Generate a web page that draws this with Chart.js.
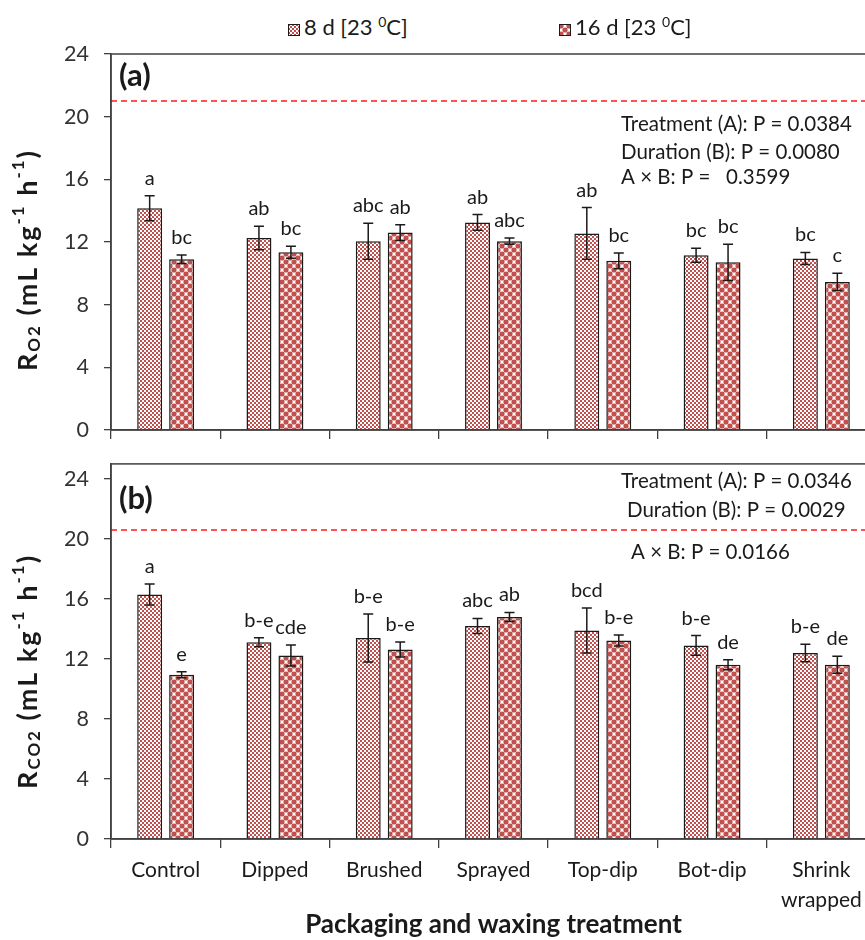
<!DOCTYPE html>
<html>
<head>
<meta charset="utf-8">
<script src="https://cdn.jsdelivr.net/npm/chart.js@4.4.1/dist/chart.umd.min.js"></script>
<style>
  html, body { margin: 0; padding: 0; background: #fff; }
  #wrap { position: relative; width: 865px; height: 940px; overflow: hidden; font-family: Lato, sans-serif; }
  #top { position: absolute; left: 0; top: 0; }
  #bot { position: absolute; left: 0; top: 436px; }
  .leg { position: absolute; top: 8px; font-size: 22px; line-height: 28px; color: #1a1a1a; white-space: nowrap; }
  .leg canvas { vertical-align: -1px; margin-right: 4px; }
  .leg sup { font-size: 14px; vertical-align: 8px; }
</style>
</head>
<body>
<div id="wrap">
  <div class="leg" style="left:288px"><canvas id="sw8" width="12" height="12"></canvas><span>8 d [23 <sup>0</sup>C]</span></div>
  <div class="leg" style="left:559px"><canvas id="sw16" width="12" height="12"></canvas><span>16 d [23 <sup>0</sup>C]</span></div>
  <canvas id="top" width="880" height="458"></canvas>
  <canvas id="bot" width="880" height="504"></canvas>
</div>
<script>
// categories
const categories = ['Control', 'Dipped', 'Brushed', 'Sprayed', 'Top-dip', 'Bot-dip', ['Shrink', 'wrapped']];
const seriesNames = ['8 d [23 \u2070C]', '16 d [23 \u2070C]'];

// (a) O2 respiration rate
const o2Day8 = [14.15, 12.25, 12.05, 13.25, 12.55, 11.15, 10.95];
const o2Day8Err = [0.8, 0.75, 1.15, 0.5, 1.65, 0.45, 0.38];
const o2Day16 = [10.9, 11.35, 12.6, 12.05, 10.8, 10.7, 9.45];
const o2Day16Err = [0.27, 0.38, 0.5, 0.2, 0.5, 1.15, 0.55];
const o2Day8Letters = ['a', 'ab', 'abc', 'ab', 'ab', 'bc', 'bc'];
const o2Day16Letters = ['bc', 'bc', 'ab', 'abc', 'bc', 'bc', 'c'];
const o2RefLine = 21;
const o2Stats = ['Treatment (A): P = 0.0384', 'Duration (B): P = 0.0080', 'A \u00d7 B: P =   0.3599'];

// (b) CO2 respiration rate
const co2Day8 = [16.3, 13.12, 13.4, 14.2, 13.9, 12.9, 12.4];
const co2Day8Err = [0.7, 0.3, 1.6, 0.5, 1.5, 0.66, 0.58];
const co2Day16 = [10.95, 12.23, 12.63, 14.8, 13.23, 11.61, 11.61];
const co2Day16Err = [0.2, 0.7, 0.5, 0.3, 0.37, 0.33, 0.57];
const co2Day8Letters = ['a', 'b-e', 'b-e', 'abc', 'bcd', 'b-e', 'b-e'];
const co2Day16Letters = ['e', 'cde', 'b-e', 'ab', 'b-e', 'de', 'de'];
const co2RefLine = 20.6;
const co2Stats = ['Treatment (A): P = 0.0346', 'Duration (B): P = 0.0029', 'A \u00d7 B: P = 0.0166'];

// y ticks
const yTicks = [0, 4, 8, 12, 16, 20, 24];

Chart.defaults.font.family = 'Lato, sans-serif';
Chart.defaults.color = '#333';

const RED = '#c0504d';
const INK = '#1a1a1a';
const AXIS = '#404040';

function checkerPattern(ctx) {
  const c = document.createElement('canvas');
  c.width = 4; c.height = 4;
  const g = c.getContext('2d');
  g.fillStyle = '#fff'; g.fillRect(0, 0, 4, 4);
  g.fillStyle = RED;
  g.fillRect(0, 0, 2, 2); g.fillRect(2, 2, 2, 2);
  return ctx.createPattern(c, 'repeat');
}

function dotPattern(ctx) {
  const c = document.createElement('canvas');
  c.width = 8; c.height = 8;
  const g = c.getContext('2d');
  g.fillStyle = '#fff'; g.fillRect(0, 0, 8, 8);
  g.fillStyle = RED;
  [[2, 2], [6, 6], [-2, 6], [6, -2], [2, 10], [10, 2]].forEach(([x, y]) => {
    g.beginPath(); g.arc(x, y, 2.6, 0, Math.PI * 2); g.fill();
  });
  return ctx.createPattern(c, 'repeat');
}

// legend swatches
[['sw8', checkerPattern], ['sw16', dotPattern]].forEach(([id, fn]) => {
  const cv = document.getElementById(id);
  const g = cv.getContext('2d');
  g.fillStyle = fn(g); g.fillRect(0, 0, 12, 12);
  g.strokeStyle = INK; g.lineWidth = 1; g.strokeRect(0.5, 0.5, 11, 11);
});

const errorBars = {
  id: 'errorBars',
  afterDatasetsDraw(chart, args, opts) {
    const ctx = chart.ctx;
    const y = chart.scales.y;
    ctx.save();
    chart.data.datasets.forEach((ds, di) => {
      const meta = chart.getDatasetMeta(di);
      meta.data.forEach((bar, i) => {
        const v = ds.data[i], e = ds.errors[i];
        const yt = y.getPixelForValue(v + e), yb = y.getPixelForValue(v - e);
        ctx.strokeStyle = INK; ctx.lineWidth = 1.5;
        ctx.beginPath();
        ctx.moveTo(bar.x, yt); ctx.lineTo(bar.x, yb);
        ctx.moveTo(bar.x - 5, yt); ctx.lineTo(bar.x + 5, yt);
        ctx.moveTo(bar.x - 5, yb); ctx.lineTo(bar.x + 5, yb);
        ctx.stroke();
        ctx.fillStyle = INK;
        ctx.font = '20px Lato, sans-serif';
        ctx.textAlign = 'center'; ctx.textBaseline = 'alphabetic';
        ctx.fillText(ds.letters[i], bar.x, yt - 11);
      });
    });
    ctx.restore();
  }
};

const panelDecor = {
  id: 'panelDecor',
  beforeDatasetsDraw(chart, args, opts) {
    const { ctx, chartArea: a } = chart;
    const y = chart.scales.y;
    const py = y.getPixelForValue(opts.refLine);
    ctx.save();
    ctx.strokeStyle = '#ff1a1a'; ctx.lineWidth = 1.5; ctx.setLineDash([6, 4]);
    ctx.beginPath(); ctx.moveTo(a.left, py); ctx.lineTo(a.right, py); ctx.stroke();
    ctx.restore();
  },
  afterDraw(chart, args, opts) {
    const { ctx, chartArea: a } = chart;
    ctx.save();
    // frame
    ctx.strokeStyle = AXIS; ctx.lineWidth = 1.5;
    ctx.strokeRect(a.left, a.top, a.right - a.left, a.bottom - a.top);
    // panel tag
    ctx.fillStyle = INK;
    ctx.font = 'bold 31px Lato, sans-serif';
    ctx.textAlign = 'left'; ctx.textBaseline = 'alphabetic';
    ctx.fillText(opts.tag, a.left + 8, a.top + opts.tagDy);
    // statistics
    ctx.font = '20.5px Lato, sans-serif';
    opts.stats.forEach((s, i) => ctx.fillText(s, opts.statX[i], a.top + opts.statDy[i]));
    // y title with sub/superscripts
    const parts = opts.yTitle;
    const base = 27, small = 17;
    ctx.translate(opts.titleX, (a.top + a.bottom) / 2 + opts.titleShift);
    ctx.rotate(-Math.PI / 2);
    ctx.textBaseline = 'middle';
    ctx.letterSpacing = '2px';
    let total = 0;
    parts.forEach(p => {
      ctx.font = 'bold ' + (p.s ? small : base) + 'px Lato, sans-serif';
      p.w = ctx.measureText(p.t).width; total += p.w;
    });
    let x = -total / 2;
    parts.forEach(p => {
      ctx.font = 'bold ' + (p.s ? small : base) + 'px Lato, sans-serif';
      ctx.fillText(p.t, x, p.s === 'sub' ? 7 : p.s === 'sup' ? -9 : 0);
      x += p.w;
    });
    ctx.restore();
  }
};

function makeChart(id, d8, e8, l8, d16, e16, l16, yMax, padTop, xHeight, showLabels, decor) {
  const canvas = document.getElementById(id);
  const ctx = canvas.getContext('2d');
  return new Chart(canvas, {
    type: 'bar',
    data: {
      labels: categories,
      datasets: [
        { label: seriesNames[0], data: d8, errors: e8, letters: l8,
          backgroundColor: checkerPattern(ctx), borderColor: INK, borderWidth: 1.5,
          categoryPercentage: 0.585, barPercentage: 0.78 },
        { label: seriesNames[1], data: d16, errors: e16, letters: l16,
          backgroundColor: dotPattern(ctx), borderColor: INK, borderWidth: 1.5,
          categoryPercentage: 0.585, barPercentage: 0.78 }
      ]
    },
    options: {
      responsive: false,
      animation: false,
      devicePixelRatio: 1,
      layout: { padding: { top: padTop, right: 4, left: 0, bottom: 0 } },
      plugins: {
        legend: { display: false },
        tooltip: { enabled: false },
        panelDecor: decor
      },
      scales: {
        x: {
          grid: { display: true, drawOnChartArea: false, offset: true, tickLength: 9, color: AXIS, lineWidth: 1.3 },
          border: { display: true, color: AXIS, width: 1.5 },
          ticks: { display: showLabels, color: INK, font: { size: 21, lineHeight: 1.4 }, padding: 8 },
          title: { display: showLabels, text: 'Packaging and waxing treatment', color: INK,
                   font: { size: 26, weight: 'bold' }, padding: 0 },
          afterFit: s => { s.height = xHeight; }
        },
        y: {
          min: 0, max: yMax,
          grid: { display: true, drawOnChartArea: false, tickLength: 7, color: AXIS, lineWidth: 1.3 },
          border: { display: true, color: AXIS, width: 1.5 },
          ticks: { stepSize: 4, includeBounds: false, padding: 15, color: '#333', font: { size: 21.5 } },
          afterBuildTicks: s => { s.ticks = yTicks.map(v => ({ value: v })); },
          afterFit: s => { s.width = 111; }
        }
      }
    },
    plugins: [errorBars, panelDecor]
  });
}

makeChart('top', o2Day8, o2Day8Err, o2Day8Letters, o2Day16, o2Day16Err, o2Day16Letters,
  24, 54, 28, false, {
    refLine: o2RefLine, tag: '(a)', tagDy: 32,
    stats: o2Stats, statX: [621, 621, 621], statDy: [77, 105, 130],
    titleX: 28, titleShift: 18,
    yTitle: [{ t: 'R' }, { t: 'O2', s: 'sub' }, { t: ' (mL kg' }, { t: '-1', s: 'sup' }, { t: ' h' }, { t: '-1', s: 'sup' }, { t: ')' }]
  });

makeChart('bot', co2Day8, co2Day8Err, co2Day8Letters, co2Day16, co2Day16Err, co2Day16Letters,
  25, 27, 101, true, {
    refLine: co2RefLine, tag: '(b)', tagDy: 45,
    stats: co2Stats, statX: [621, 627, 631], statDy: [24, 53, 95],
    titleX: 28, titleShift: 20,
    yTitle: [{ t: 'R' }, { t: 'CO2', s: 'sub' }, { t: ' (mL kg' }, { t: '-1', s: 'sup' }, { t: ' h' }, { t: '-1', s: 'sup' }, { t: ')' }]
  });
</script>
</body>
</html>
